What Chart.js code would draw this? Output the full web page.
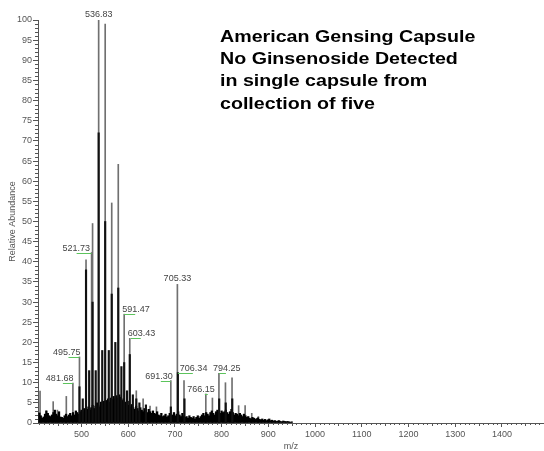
<!DOCTYPE html>
<html>
<head>
<meta charset="utf-8">
<script src="https://cdn.jsdelivr.net/npm/chart.js@4.4.1/dist/chart.umd.min.js"></script>
<style>
  html, body { margin: 0; padding: 0; background: #fff; }
  canvas { display: block; }
</style>
</head>
<body>
<canvas id="spectrum" width="544" height="451"></canvas>
<script>
/* ── Spectrum data ──────────────────────────────────────────────────────── */

// centroid peak tops (grey sticks)
const PEAK_MZ = [411.4, 424.5, 439.5, 448.5, 467.6, 481.68, 495.75, 509.8, 521.73, 523.8,
                 536.83, 550.8, 564.8, 578.8, 591.47, 603.43, 617.4, 632.0, 646.8, 660.5,
                 691.30, 705.33, 719.5, 766.15, 780.3, 794.25, 808.2, 822.3, 836.4, 850.3,
                 864.5, 878.6];
const PEAK_AB = [7.9, 3.0, 5.3, 3.2, 6.6, 9.9, 16.4, 40.5, 42.3, 49.5,
                 100, 99, 54.6, 64.2, 27.0, 21.0, 8.0, 6.0, 4.2, 4.0,
                 10.5, 34.4, 10.5, 7.2, 6.2, 12.3, 10.0, 11.2, 4.3, 4.3,
                 2.4, 1.6];

// dense lower parts of the cluster (black)
const DARK_MZ = [495.75, 502.8, 509.8, 516.5, 523.8, 530.5, 536.83, 544.5, 550.8, 558.5,
                 564.8, 572.5, 578.8, 585.5, 591.47, 597.5, 603.43, 610.0, 617.4, 624.0,
                 638.0, 691.30, 706.34, 720.5, 794.8, 808.8, 822.8];
const DARK_AB = [9, 6, 38, 13, 30, 13, 72, 18, 50, 18,
                 32, 20, 33.5, 14, 15, 8, 17, 7, 6, 5,
                 4.5, 4, 12.5, 6, 6, 5, 6];

// baseline "grass"
const GRASS_MZ = [410, 413, 416, 419, 422, 425, 428, 431, 434, 437, 440, 443, 446, 449,
                  452, 455, 458, 461, 464, 467, 470, 473, 476, 479, 482, 485, 488, 491, 494, 497,
                  500, 503, 506, 509, 512, 515, 518, 521, 524, 527, 530, 533, 536, 539, 542, 545, 548,
                  551, 554, 557, 560, 563, 566, 569, 572, 575, 578, 581, 584, 587, 590, 593, 596, 599,
                  602, 605, 608, 611, 614, 617, 620, 623, 626, 629, 632, 635, 638, 641, 644, 647, 650,
                  653, 656, 659, 662, 665, 668, 671, 674, 677, 680, 683, 686, 689, 692, 695, 698, 701,
                  704, 707, 710, 713, 716, 719, 722, 725, 728, 731, 734, 737, 740, 743, 746, 749, 752,
                  755, 758, 761, 764, 767, 770, 773, 776, 779, 782, 785, 788, 791, 794, 797, 800, 803,
                  806, 809, 812, 815, 818, 821, 824, 827, 830, 833, 836, 839, 842, 845, 848, 851, 854,
                  857, 860, 863, 866, 869, 872, 875, 878, 881, 884, 887, 890, 893, 896, 899, 902, 905,
                  908, 911, 914, 917, 920, 923, 926, 929, 932, 935, 938, 941, 944, 947, 950];
const GRASS_AB = [2.5, 1.8, 1.2, 1.5, 2.2, 3.0, 2.4, 1.8, 1.6, 2.0, 2.6, 3.2, 2.2, 1.8,
                  2.8, 1.5, 1.4, 1.2, 1.8, 2.2, 1.6, 2.0, 2.4, 1.8, 2.6, 2.0, 3.0, 2.6, 2.2, 2.8,
                  3.2, 2.8, 3.6, 3.0, 3.4, 4.0, 3.2, 3.8, 4.4, 3.6, 4.2, 5.0, 4.4, 4.0, 5.2, 4.6, 5.4,
                  5.0, 5.6, 6.0, 5.2, 6.2, 5.8, 6.6, 6.0, 6.8, 6.2, 7.0, 6.4, 5.6, 6.0, 5.2, 4.8, 5.4,
                  4.4, 4.0, 4.6, 3.8, 3.4, 4.2, 3.6, 3.0, 3.8, 3.2, 2.8, 3.6, 3.0, 2.6, 3.4, 2.8, 2.4,
                  3.0, 2.4, 2.2, 2.8, 2.0, 1.8, 2.4, 1.6, 1.8, 2.2, 1.5, 1.8, 2.4, 1.6, 2.0, 2.6, 1.8,
                  2.2, 2.8, 2.0, 1.6, 2.4, 1.8, 1.4, 1.6, 1.2, 1.8, 1.4, 1.2, 1.6, 1.0, 1.4, 1.8, 1.2,
                  1.6, 2.0, 2.4, 1.8, 2.6, 2.2, 1.8, 2.6, 3.0, 2.4, 2.0, 2.8, 3.2, 2.6, 2.4, 3.0, 2.6,
                  2.8, 3.2, 2.6, 2.2, 2.8, 3.4, 2.6, 2.0, 2.4, 2.2, 1.8, 2.4, 2.0, 1.6, 2.2, 1.8, 1.4,
                  1.6, 1.2, 1.0, 1.4, 1.2, 0.9, 1.1, 1.3, 0.9, 0.8, 1.0, 0.7, 0.9, 0.6, 0.8, 1.0, 0.6,
                  0.7, 0.5, 0.6, 0.4, 0.5, 0.6, 0.4, 0.3, 0.5, 0.4, 0.3, 0.4, 0.3, 0.2, 0.3];

const LABELS = ['481.68', '495.75', '521.73', '536.83', '591.47', '603.43',
                '691.30', '705.33', '706.34', '766.15', '794.25'];

const TITLE_LINES = ['American Gensing Capsule', 'No Ginsenoside Detected',
                     'in single capsule from', 'collection of five'];

/* ── Label placement (px offsets from the peak top) ─────────────────────── */
const LABEL_POS = {
  '536.83': { align: 'center', dx: 0,    dy: -3, line: null },
  '705.33': { align: 'center', dx: 0,    dy: -3, line: null },
  '521.73': { align: 'right',  dx: -1.5, dy: -2, line: [-15, 0] },
  '495.75': { align: 'right',  dx: 1,    dy: -2, line: [-11, 0] },
  '481.68': { align: 'right',  dx: 0.5,  dy: -2, line: [-10, 0] },
  '691.30': { align: 'right',  dx: 2,    dy: -2, line: [-10, 0] },
  '591.47': { align: 'left',   dx: -2,   dy: -2, line: [0, 11] },
  '603.43': { align: 'left',   dx: -2,   dy: -2, line: [1, 11] },
  '706.34': { align: 'left',   dx: 2,    dy: -2, line: [0, 15] },
  '794.25': { align: 'left',   dx: -6,   dy: -2, line: [0, 7] },
  '766.15': { align: 'right',  dx: 9,    dy: -2, line: [-1, 2] },
};

/* ── Chart.js defaults ──────────────────────────────────────────────────── */
Chart.defaults.font.family = "Arial, 'Liberation Sans', sans-serif";
Chart.defaults.color = '#555';

const AXIS_COLOR = '#555';

function toPoints(xs, ys) {
  return xs.map((x, i) => ({ x, y: ys[i] }));
}

function heightAt(mz) {
  let h = 0;
  PEAK_MZ.forEach((m, i) => { if (m === mz) h = Math.max(h, PEAK_AB[i]); });
  DARK_MZ.forEach((m, i) => { if (m === mz) h = Math.max(h, DARK_AB[i]); });
  return h;
}

/* minor ticks, peak labels and the caption */
const decorPlugin = {
  id: 'decor',
  afterDraw(chart) {
    const { ctx, chartArea: area, scales: { x, y } } = chart;
    ctx.save();

    // minor ticks
    ctx.strokeStyle = AXIS_COLOR;
    ctx.lineWidth = 1;
    ctx.beginPath();
    for (let v = 1; v < 100; v++) {
      if (v % 5 === 0) continue;
      const py = Math.round(y.getPixelForValue(v)) + 0.5;
      ctx.moveTo(area.left - 3, py);
      ctx.lineTo(area.left, py);
    }
    for (let v = 410; v <= x.max; v += 10) {
      if (v % 100 === 0) continue;
      const px = Math.round(x.getPixelForValue(v)) + 0.5;
      ctx.moveTo(px, area.bottom);
      ctx.lineTo(px, area.bottom + (v % 50 === 0 ? 3 : 2));
    }
    ctx.stroke();

    // peak labels
    ctx.font = "9px Arial, 'Liberation Sans', sans-serif";
    ctx.textBaseline = 'alphabetic';
    LABELS.forEach(lbl => {
      const mz  = parseFloat(lbl);
      const pos = LABEL_POS[lbl];
      const px  = x.getPixelForValue(mz);
      const py  = y.getPixelForValue(heightAt(mz));
      if (pos.line) {
        ctx.strokeStyle = '#5cc45c';
        ctx.beginPath();
        ctx.moveTo(px + pos.line[0], Math.round(py) + 0.5);
        ctx.lineTo(px + pos.line[1], Math.round(py) + 0.5);
        ctx.stroke();
      }
      ctx.fillStyle = '#444';
      ctx.textAlign = pos.align;
      ctx.fillText(lbl, px + pos.dx, py + pos.dy);
    });

    // caption (the original lettering is a little wider than Arial)
    ctx.fillStyle = '#000';
    ctx.textAlign = 'left';
    ctx.font = "bold 17px Arial, 'Liberation Sans', sans-serif";
    ctx.translate(220, 0);
    ctx.scale(1.155, 1);
    TITLE_LINES.forEach((t, i) => ctx.fillText(t, 0, 41.5 + i * 22.4));

    ctx.restore();
  },
};

new Chart(document.getElementById('spectrum'), {
  type: 'bar',
  data: {
    datasets: [
      {
        label: 'profile',
        data: toPoints(DARK_MZ, DARK_AB),
        backgroundColor: '#111',
        barThickness: 1.5,
        grouped: false,
        order: 0,
      },
      {
        label: 'baseline',
        data: toPoints(GRASS_MZ, GRASS_AB),
        backgroundColor: '#000',
        barThickness: 1.6,
        grouped: false,
        order: 1,
      },
      {
        label: 'centroid',
        data: toPoints(PEAK_MZ, PEAK_AB),
        backgroundColor: '#707070',
        barThickness: 1,
        grouped: false,
        order: 2,
      },
    ],
  },
  options: {
    responsive: false,
    animation: false,
    events: [],
    layout: { padding: { top: 20, left: 0, right: 0, bottom: 0 } },
    plugins: { legend: { display: false }, tooltip: { enabled: false } },
    scales: {
      x: {
        type: 'linear',
        min: 407,
        max: 1490,
        offset: false,
        grid: { display: true, offset: false, drawOnChartArea: false, tickLength: 4, color: AXIS_COLOR },
        border: { color: AXIS_COLOR },
        ticks: { stepSize: 100, includeBounds: false, autoSkip: false, maxRotation: 0,
                 font: { size: 9 }, color: '#555', padding: 2, callback: v => String(v) },
        afterBuildTicks: s => { s.ticks = s.ticks.filter(t => t.value % 100 === 0); },
        afterFit: s => { s.height = 28; },
        title: { display: true, text: 'm/z', font: { size: 9 }, color: '#555',
                 padding: { top: 0, bottom: -1 } },
      },
      y: {
        min: 0,
        max: 100,
        grid: { drawOnChartArea: false, tickLength: 5, color: AXIS_COLOR },
        border: { color: AXIS_COLOR },
        ticks: { stepSize: 5, font: { size: 9 }, color: '#555', padding: 1 },
        afterFit: s => { s.width = 38; },
        title: { display: true, text: 'Relative Abundance', font: { size: 9 }, color: '#555',
                 padding: { top: 7, bottom: 0 } },
      },
    },
  },
  plugins: [decorPlugin],
});
</script>
</body>
</html>
